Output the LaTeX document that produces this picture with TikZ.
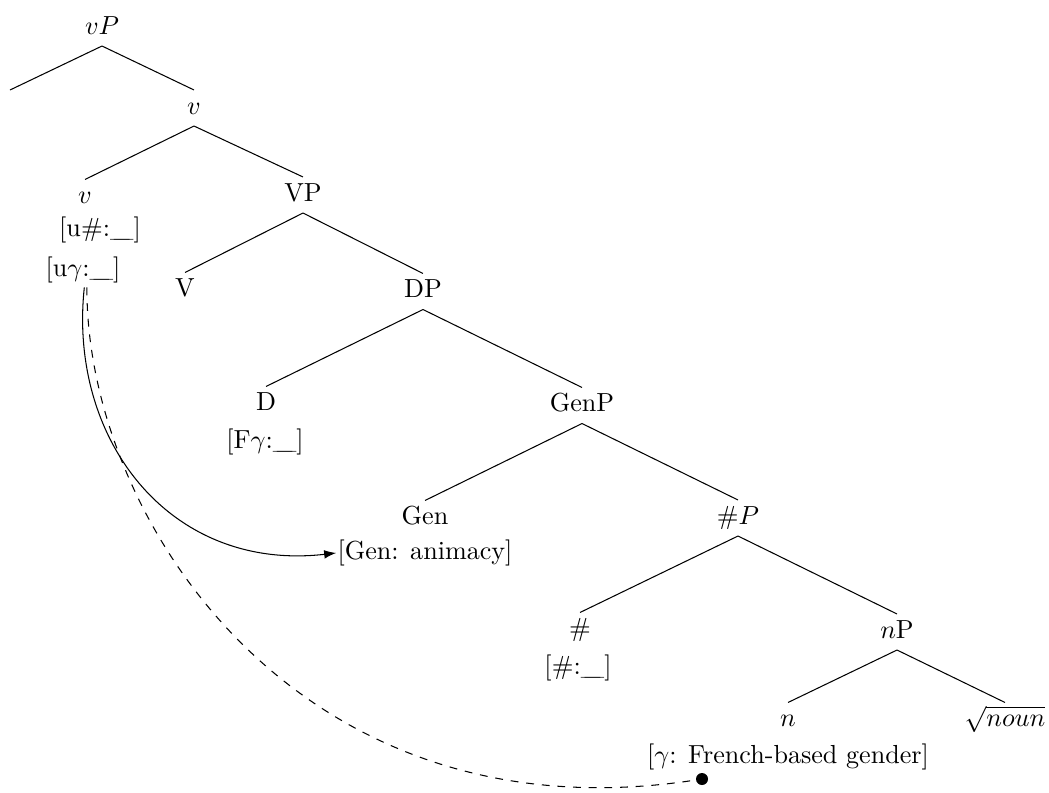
\documentclass[tikz,border=0pt]{standalone}
\usetikzlibrary{arrows.meta}
% an empty feature value
\newcommand{\featblank}{\_\kern-6pt\_}
\tikzset{
  cat/.style={anchor=base, inner sep=2.2pt, text height=6.8pt, text depth=2.2pt},
  feat/.style={anchor=base, inner sep=1.5pt},
  branch/.style={line width=0.4pt},
  agree/.style={line width=0.4pt, -{Latex[length=4.6pt,width=3.3pt]}},
  probe/.style={line width=0.4pt, dashed},
  goal/.style={circle, fill, inner sep=0pt, minimum size=4.6pt},
}
\begin{document}
\begin{tikzpicture}[x=0.383pt, y=-0.383pt]
\useasboundingbox (0,0) rectangle (1049,792);

% category labels
\node[cat] (vP)   at (102,34)    {$vP$};
\coordinate (spec) at (10,90);
\node[cat] (vbar) at (194,114)   {$v$};
\node[cat] (v)    at (85,203.5)  {$v$};
\node[cat] (VP)   at (303,201)   {VP};
\node[cat] (V)    at (185,296.5) {V};
\node[cat] (DP)   at (423,297.5) {DP};
\node[cat] (D)    at (266,410.5) {D};
\node[cat] (GenP) at (582,411.5) {GenP};
\node[cat] (Gen)  at (425,524.5) {Gen};
\node[cat] (NumP) at (738,524)   {$\#P$};
\node[cat] (Num)  at (580,636.5) {\#};
\node[cat] (nP)   at (897,638)   {$n$P};
\node[cat] (n)    at (788,726.5) {$n$};
\node[cat] (root) at (1005,726.5) {$\sqrt{noun}$};

% feature bundles
\node[feat] (fnum)  at (100,236.5) {[u\#:\featblank]};
\node[feat] (fgam)  at (83,276.5)  {[u$\gamma$:\featblank]};
\node[feat] (fD)    at (265,448.5) {[F$\gamma$:\featblank]};
\node[feat] (fGen)  at (425,559.5) {[Gen: animacy]};
\node[feat] (fNum)  at (578,674.5) {[\#:\featblank]};
\node[feat] (fn)    at (788,763.5) {[$\gamma$: French-based gender]};
\node[goal] (dot)   at (702,779) {};

% branches
\draw[branch] (vP.south) -- (spec);
\draw[branch] (vP.south) -- (vbar.north);
\draw[branch] (vbar.south) -- (v.north);
\draw[branch] (vbar.south) -- (VP.north);
\draw[branch] (VP.south) -- (V.north);
\draw[branch] (VP.south) -- (DP.north);
\draw[branch] (DP.south) -- (D.north);
\draw[branch] (DP.south) -- (GenP.north);
\draw[branch] (GenP.south) -- (Gen.north);
\draw[branch] (GenP.south) -- (NumP.north);
\draw[branch] (NumP.south) -- (Num.north);
\draw[branch] (NumP.south) -- (nP.north);
\draw[branch] (nP.south) -- (n.north);
\draw[branch] (nP.south) -- (root.north);

% agreement paths from the gender probe on v
\draw[agree] ([xshift=0.5pt]fgam.south) .. controls (68,440) and (170,572) .. ([xshift=1.2pt]fGen.west);
\draw[probe] ([xshift=1.5pt]fgam.south) .. controls (86,520) and (300,845) .. (dot.center);
\end{tikzpicture}
\end{document}
